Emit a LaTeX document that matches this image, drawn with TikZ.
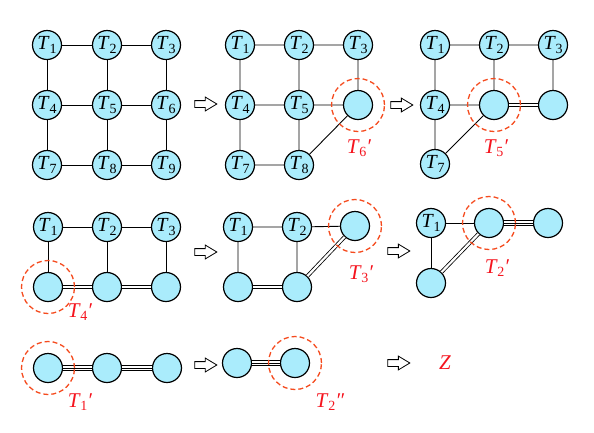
\documentclass[tikz,border=0pt]{standalone}
\usepackage{fontspec}
\setmainfont{Liberation Serif}
\usetikzlibrary{shapes.arrows}
\definecolor{nodefill}{RGB}{170,236,252}
\definecolor{ringred}{RGB}{245,75,30}
\definecolor{labred}{RGB}{245,20,30}
\newcommand\Tn[1]{\textit{T}\kern-0.3pt\raisebox{-0.35ex}{\fontsize{14}{14}\selectfont #1}}
\newcommand\prm{\textit{\char"2032}}
\newcommand\dprm{\textit{\char"2033}}
\tikzset{
  vert/.style={circle, draw=black, line width=1.2pt, fill=nodefill, minimum size=29pt, inner sep=0pt, font=\fontsize{20}{20}\selectfont},
  ring/.style={circle, draw=ringred, dash pattern=on 5pt off 3pt, line width=1.3pt, minimum size=53pt, inner sep=0pt},
  lab/.style={text=labred, font=\fontsize{21}{21}\selectfont, inner sep=0pt},
  lnk/.style={draw=black, line width=0.9pt},
  dbl/.style={draw=black, line width=0.8pt, double=white, double distance=2.2pt},
  tri/.style={draw=black, line width=0.8pt, double=white, double distance=4.6pt},
  harrow/.style={single arrow, draw=black, line width=0.8pt, fill=white, inner xsep=0pt, inner ysep=3pt, text height=0pt, text depth=0pt, minimum height=22pt, single arrow head extend=3.5pt, single arrow tip angle=62}
}
\begin{document}
\begin{tikzpicture}[x=1pt, y=-1pt]
\useasboundingbox (0,0) rectangle (594,432);
% ---------- Panel A ----------
\node[vert] (a1) at (47,45) {\Tn{1}};
\node[vert] (a2) at (107,45) {\Tn{2}};
\node[vert] (a3) at (166,45) {\Tn{3}};
\node[vert] (a4) at (47,105) {\Tn{4}};
\node[vert] (a5) at (107,105) {\Tn{5}};
\node[vert] (a6) at (166,105) {\Tn{6}};
\node[vert] (a7) at (47,165) {\Tn{7}};
\node[vert] (a8) at (107,165) {\Tn{8}};
\node[vert] (a9) at (166,165) {\Tn{9}};
\draw[lnk] (a1)--(a2) (a2)--(a3) (a4)--(a5) (a5)--(a6) (a7)--(a8) (a8)--(a9)
  (a1)--(a4) (a4)--(a7) (a2)--(a5) (a5)--(a8) (a3)--(a6) (a6)--(a9);
\node[harrow] (ar1) at (203,104) {};
% ---------- Panel B ----------
\node[vert] (b1) at (240,45) {\Tn{1}};
\node[vert] (b2) at (299,45) {\Tn{2}};
\node[vert] (b3) at (358,45) {\Tn{3}};
\node[vert] (b4) at (240,105) {\Tn{4}};
\node[vert] (b5) at (299,105) {\Tn{5}};
\node[vert] (b6) at (358,105) {};
\node[vert] (b7) at (240,165) {\Tn{7}};
\node[vert] (b8) at (299,165) {\Tn{8}};
\draw[lnk] (b1)--(b2) (b2)--(b3) (b4)--(b5) (b5)--(b6) (b7)--(b8)
  (b1)--(b4) (b4)--(b7) (b2)--(b5) (b5)--(b8) (b3)--(b6) (b8)--(b6);
\node[ring] (rb) at (b6) {};
\node[lab] (lb) at (359,148) {\Tn{6}\prm};
\node[harrow] (ar2) at (399,105) {};
% ---------- Panel C ----------
\node[vert] (c1) at (435,45) {\Tn{1}};
\node[vert] (c2) at (494,45) {\Tn{2}};
\node[vert] (c3) at (553,45) {\Tn{3}};
\node[vert] (c4) at (435,105) {\Tn{4}};
\node[vert] (c5) at (494,105) {};
\node[vert] (c6) at (553,105) {};
\node[vert] (c7) at (435,164) {\Tn{7}};
\draw[lnk] (c1)--(c2) (c2)--(c3) (c1)--(c4) (c4)--(c7) (c4)--(c5) (c2)--(c5) (c3)--(c6) (c7)--(c5);
\draw[dbl] (c5)--(c6);
\node[ring] (rc) at (c5) {};
\node[lab] (lc) at (496,148) {\Tn{5}\prm};
% ---------- Panel D ----------
\node[vert] (d1) at (48,227) {\Tn{1}};
\node[vert] (d2) at (107,227) {\Tn{2}};
\node[vert] (d3) at (166,227) {\Tn{3}};
\node[vert] (d4) at (48,287) {};
\node[vert] (d5) at (107,287) {};
\node[vert] (d6) at (166,287) {};
\draw[lnk] (d1)--(d2) (d2)--(d3) (d1)--(d4) (d2)--(d5) (d3)--(d6);
\draw[dbl] (d4)--(d5);
\draw[dbl] (d5)--(d6);
\node[ring] (rd) at (d4) {};
\node[lab] (ld) at (80,312) {\Tn{4}\prm};
\node[harrow] (ar3) at (203,252) {};
% ---------- Panel E ----------
\node[vert] (e1) at (238,227) {\Tn{1}};
\node[vert] (e2) at (297,227) {\Tn{2}};
\node[vert] (e3) at (355,226) {};
\node[vert] (e4) at (238,287) {};
\node[vert] (e5) at (297,287) {};
\draw[lnk] (e1)--(e2) (e2)--(e3) (e1)--(e4) (e2)--(e5);
\draw[dbl] (e4)--(e5);
\draw[dbl] (e5)--(e3);
\node[ring] (re) at (e3) {};
\node[lab] (le) at (361,274) {\Tn{3}\prm};
\node[harrow] (ar4) at (396,251) {};
% ---------- Panel F ----------
\node[vert] (f1) at (431,223) {\Tn{1}};
\node[vert] (f2) at (489,223) {};
\node[vert] (f3) at (548,223) {};
\node[vert] (f4) at (431,283) {};
\draw[lnk] (f1)--(f2) (f1)--(f4);
\draw[dbl] (f4)--(f2);
\draw[tri] (f2)--(f3);
\draw[lnk] (f2)--(f3);
\node[ring] (rf) at (f2) {};
\node[lab] (lf) at (497,268) {\Tn{2}\prm};
% ---------- Panel G ----------
\node[vert] (g1) at (48,368) {};
\node[vert] (g2) at (107,368) {};
\node[vert] (g3) at (167,368) {};
\draw[tri] (g1)--(g2);
\draw[lnk] (g1)--(g2);
\draw[tri] (g2)--(g3);
\draw[lnk] (g2)--(g3);
\node[ring] (rg) at (g1) {};
\node[lab] (lg) at (80,402) {\Tn{1}\prm};
\node[harrow] (ar5) at (203,365) {};
% ---------- Panel H ----------
\node[vert] (h1) at (237,363) {};
\node[vert] (h2) at (295,363) {};
\draw[tri] (h1)--(h2);
\draw[lnk] (h1)--(h2);
\node[ring] (rh) at (h2) {};
\node[lab] (lh) at (330,402) {\Tn{2}\dprm};
\node[harrow] (ar6) at (396,363) {};
\node[lab] (z) at (445,363) {\textit{Z}};
\end{tikzpicture}
\end{document}
